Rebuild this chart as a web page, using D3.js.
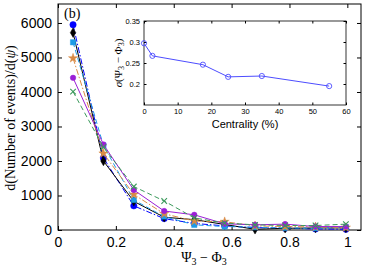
<!DOCTYPE html>
<html>
<head>
<meta charset="utf-8">
<script src="https://cdn.jsdelivr.net/npm/d3@7"></script>
<style>
  body { margin: 0; background: #fff; }
  svg { display: block; }
  .tick text { font-family: "Liberation Sans", Arial, sans-serif; }
</style>
</head>
<body>
<svg id="chart" width="366" height="266"></svg>
<script>
// bin centres of psi3 - phi3 over [0, pi/3], 10 bins
const binCenters = [0.052, 0.157, 0.262, 0.367, 0.471, 0.576, 0.681, 0.785, 0.890, 0.995];

const blueCounts      = [5950, 2090, 700, 330, 190, 120, 70, 50, 30, 20];
const blackCounts     = [5720, 2000, 830, 370, 300, 160, 20, 50, 60, 60];
const lightBlueCounts = [5440, 2450, 870, 390, 150, 100, 80, 60, 50, 80];
const orangeCounts    = [4980, 2220, 1030, 470, 260, 240, 120, 100, 90, 70];
const purpleCounts    = [4410, 2480, 1160, 550, 440, 180, 150, 170, 100, 100];
const greenCounts     = [4010, 2400, 1260, 840, 350, 200, 150, 130, 130, 170];

const xTicks = [0, 0.2, 0.4, 0.6, 0.8, 1];
const yTicks = [0, 1000, 2000, 3000, 4000, 5000, 6000];

// inset: sigma vs centrality
const centrality = [0, 2.5, 17.5, 25, 35, 55];
const sigmaValues = [0.297, 0.267, 0.246, 0.217, 0.219, 0.195];
const insetXTicks = [0, 10, 20, 30, 40, 50, 60];
const insetYTicks = [0.2, 0.25, 0.3, 0.35];

const series = [
  { values: blueCounts,      color: '#0000ff', dash: '6,2,1.5,2', marker: 'circle' },
  { values: blackCounts,     color: '#000000', dash: null,        marker: 'diamond' },
  { values: lightBlueCounts, color: '#1e9be6', dash: '5,3',       marker: 'square' },
  { values: orangeCounts,    color: '#d98b45', dash: '6,2,1.5,2', marker: 'star' },
  { values: purpleCounts,    color: '#9b1fd6', dash: null,        marker: 'hex' },
  { values: greenCounts,     color: '#3c9a5c', dash: '5,3',       marker: 'cross' }
];

const svg = d3.select('#chart');
const margin = { left: 58, top: 4, right: 5, bottom: 36 };
const W = 366, H = 266;

const x = d3.scaleLinear().domain([0, Math.PI / 3]).range([margin.left, W - margin.right]);
const y = d3.scaleLinear().domain([0, 6550]).range([H - margin.bottom, margin.top]);

const sans = '"Liberation Sans", Arial, sans-serif';
const serif = '"Liberation Serif", "DejaVu Serif", serif';

// axes with inward ticks, matlab box style
const tickIn = 4;
svg.append('g')
  .attr('transform', `translate(0,${y(0)})`)
  .call(d3.axisBottom(x).tickValues(xTicks).tickSize(-tickIn).tickPadding(7).tickFormat(d3.format('~g')))
  .call(g => g.select('.domain').remove())
  .call(g => g.selectAll('text').attr('font-size', 14).attr('fill', '#000'));

svg.append('g')
  .attr('transform', `translate(${x(0)},0)`)
  .call(d3.axisLeft(y).tickValues(yTicks).tickSize(-tickIn).tickPadding(6).tickFormat(d3.format('d')))
  .call(g => g.select('.domain').remove())
  .call(g => g.selectAll('text').attr('font-size', 14).attr('fill', '#000'));

svg.append('g')
  .attr('transform', `translate(0,${margin.top})`)
  .call(d3.axisTop(x).tickValues(xTicks).tickSize(-tickIn).tickFormat(''))
  .call(g => g.select('.domain').remove());

svg.append('g')
  .attr('transform', `translate(${W - margin.right},0)`)
  .call(d3.axisRight(y).tickValues(yTicks).tickSize(-tickIn).tickFormat(''))
  .call(g => g.select('.domain').remove());

svg.append('rect')
  .attr('x', x(0)).attr('y', margin.top)
  .attr('width', x(Math.PI / 3) - x(0)).attr('height', y(0) - margin.top)
  .attr('fill', 'none').attr('stroke', '#000').attr('stroke-width', 1);

// marker symbols
const symbolFor = {
  circle: d3.symbol(d3.symbolCircle, 32),
  diamond: d3.symbol(d3.symbolDiamond, 26),
  square: d3.symbol(d3.symbolSquare, 28),
  star: d3.symbol(d3.symbolStar, 26),
  hex: d3.symbol(d3.symbolCircle, 24),
  cross: d3.symbol(d3.symbolTimes, 22)
};

const line = d3.line().x(d => x(d[0])).y(d => y(d[1]));

const plot = svg.append('g');
series.forEach(s => {
  const pts = binCenters.map((c, i) => [c, s.values[i]]);
  plot.append('path')
    .datum(pts)
    .attr('fill', 'none')
    .attr('stroke', s.color)
    .attr('stroke-width', 1)
    .attr('stroke-dasharray', s.dash)
    .attr('d', line);
  plot.selectAll(null)
    .data(pts)
    .join('path')
    .attr('transform', d => `translate(${x(d[0])},${y(d[1])})`)
    .attr('d', symbolFor[s.marker]())
    .attr('fill', s.marker === 'cross' ? 'none' : s.color)
    .attr('stroke', s.color)
    .attr('stroke-width', s.marker === 'cross' ? 1.1 : 0.5);
});

// labels
svg.append('text')
  .attr('x', 64).attr('y', 18)
  .attr('font-family', serif).attr('font-size', 14)
  .text('(b)');

const yl = svg.append('text')
  .attr('transform', `translate(15,${(y(0) + margin.top) / 2 + 1}) rotate(-90)`)
  .attr('text-anchor', 'middle')
  .attr('font-family', serif).attr('font-size', 14);
yl.append('tspan').text('d(Number of events)/d(');
yl.append('tspan').attr('font-style', 'italic').text('ψ');
yl.append('tspan').text(')');

const xl = svg.append('text')
  .attr('x', 204).attr('y', 262)
  .attr('text-anchor', 'middle')
  .attr('font-family', serif).attr('font-size', 14);
xl.append('tspan').text('Ψ');
xl.append('tspan').attr('font-size', 10).attr('dy', 3).text('3');
xl.append('tspan').attr('dy', -3).text(' − Φ');
xl.append('tspan').attr('font-size', 10).attr('dy', 3).text('3');

// inset
const ix = d3.scaleLinear().domain([0, 60]).range([144, 346]);
const iy = d3.scaleLinear().domain([0.15, 0.35]).range([105, 21]);

svg.append('rect')
  .attr('x', 144).attr('y', 21).attr('width', 202).attr('height', 84)
  .attr('fill', '#fff');

svg.append('g')
  .attr('transform', `translate(0,${iy(0.15)})`)
  .call(d3.axisBottom(ix).tickValues(insetXTicks).tickSize(-2.5).tickPadding(4))
  .call(g => g.select('.domain').remove())
  .call(g => g.selectAll('text').attr('font-size', 7.5).attr('fill', '#000'));

svg.append('g')
  .attr('transform', `translate(${ix(0)},0)`)
  .call(d3.axisLeft(iy).tickValues(insetYTicks).tickSize(-2.5).tickPadding(4).tickFormat(d3.format('~g')))
  .call(g => g.select('.domain').remove())
  .call(g => g.selectAll('text').attr('font-size', 7.5).attr('fill', '#000'));

svg.append('g')
  .attr('transform', `translate(0,${iy(0.35)})`)
  .call(d3.axisTop(ix).tickValues(insetXTicks).tickSize(-2.5).tickFormat(''))
  .call(g => g.select('.domain').remove());

svg.append('g')
  .attr('transform', `translate(${ix(60)},0)`)
  .call(d3.axisRight(iy).tickValues(insetYTicks).tickSize(-2.5).tickFormat(''))
  .call(g => g.select('.domain').remove());

svg.append('rect')
  .attr('x', 144).attr('y', 21).attr('width', 202).attr('height', 84)
  .attr('fill', 'none').attr('stroke', '#000').attr('stroke-width', 0.8);

const insetPts = centrality.map((c, i) => [c, sigmaValues[i]]);
svg.append('path')
  .datum(insetPts)
  .attr('fill', 'none')
  .attr('stroke', '#4d4dff')
  .attr('stroke-width', 1)
  .attr('d', d3.line().x(d => ix(d[0])).y(d => iy(d[1])));
svg.selectAll('.ipt')
  .data(insetPts)
  .join('circle')
  .attr('cx', d => ix(d[0])).attr('cy', d => iy(d[1]))
  .attr('r', 2.6)
  .attr('fill', 'none').attr('stroke', '#4d4dff').attr('stroke-width', 0.9);

svg.append('text')
  .attr('x', 245).attr('y', 128)
  .attr('text-anchor', 'middle')
  .attr('font-family', sans).attr('font-size', 11)
  .text('Centrality (%)');

const il = svg.append('text')
  .attr('transform', `translate(122,63) rotate(-90)`)
  .attr('text-anchor', 'middle')
  .attr('font-family', serif).attr('font-size', 11);
il.append('tspan').attr('font-style', 'italic').text('σ');
il.append('tspan').text('(Ψ');
il.append('tspan').attr('font-size', 8).attr('dy', 2).text('3');
il.append('tspan').attr('dy', -2).text(' − Φ');
il.append('tspan').attr('font-size', 8).attr('dy', 2).text('3');
il.append('tspan').attr('dy', -2).text(')');
</script>
</body>
</html>
